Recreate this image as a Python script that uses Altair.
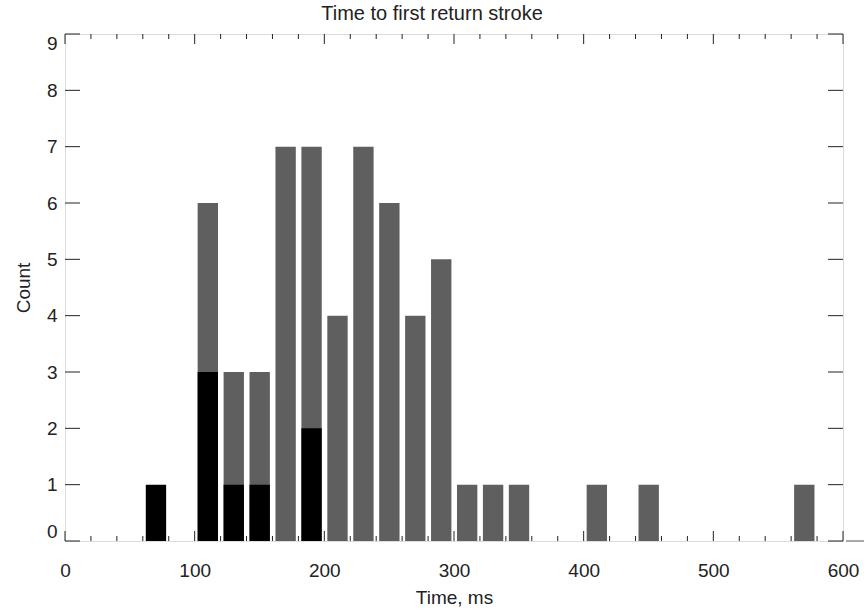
import altair as alt
import pandas as pd

# Histogram data (bin start in ms, bin width 20 ms)
gray_start = [100, 120, 140, 160, 180, 200, 220, 240, 260, 280, 300, 320, 340, 400, 440, 560]
gray_count = [6, 3, 3, 7, 7, 4, 7, 6, 4, 5, 1, 1, 1, 1, 1, 1]
black_start = [60, 100, 120, 140, 180]
black_count = [1, 3, 1, 1, 2]
bin_width = 20

x_major = [0, 100, 200, 300, 400, 500, 600]
x_minor = [v for v in range(0, 601, 20) if v % 100 != 0]
y_ticks = [0, 1, 2, 3, 4, 5, 6, 7, 8, 9]

W, H = 778, 507
FONT = "Liberation Sans"
TXT = "#222222"

gray_df = pd.DataFrame({"start": gray_start, "count": gray_count})
gray_df["x0"] = gray_df["start"] + 2.3
gray_df["x1"] = gray_df["start"] + bin_width - 2.0
black_df = pd.DataFrame({"start": black_start, "count": black_count})
black_df["x0"] = black_df["start"] + 2.3
black_df["x1"] = black_df["start"] + bin_width - 2.0

xs = alt.Scale(domain=[0, 600], nice=False, zero=False)
ys = alt.Scale(domain=[0, 9], nice=False, zero=False)

x_axis = alt.Axis(values=x_major, ticks=False, domain=False, grid=False, format="d",
                  labelFlush=False, labelOverlap=False,
                  labelFont=FONT, labelFontSize=19, labelColor=TXT, labelPadding=20,
                  title="Time, ms", titleFont=FONT, titleFontSize=19, titleFontWeight="normal",
                  titleColor=TXT, titlePadding=8)
y_axis = alt.Axis(values=y_ticks, ticks=False, domain=False, grid=False, format="d",
                  labelFont=FONT, labelFontSize=19, labelColor=TXT, labelPadding=8,
                  labelFlush=True, labelFlushOffset=0, labelOverlap=False,
                  title="Count", titleFont=FONT, titleFontSize=19, titleFontWeight="normal",
                  titleColor=TXT, titlePadding=13)

gray = alt.Chart(gray_df).mark_rect(color="#5f5f5f").encode(
    x=alt.X("x0:Q", scale=xs, axis=x_axis),
    x2="x1:Q",
    y=alt.Y("count:Q", scale=ys, axis=y_axis),
    y2=alt.datum(0),
)
black = alt.Chart(black_df).mark_rect(color="#000000").encode(
    x=alt.X("x0:Q", scale=xs),
    x2="x1:Q",
    y=alt.Y("count:Q", scale=ys),
    y2=alt.datum(0),
)

maj_df = pd.DataFrame({"v": x_major})
min_df = pd.DataFrame({"v": x_minor})
yt_df = pd.DataFrame({"v": y_ticks})
tick_color = "#222222"

xmaj_bot = alt.Chart(maj_df).mark_rule(color=tick_color, strokeWidth=1).encode(
    x=alt.X("v:Q", scale=xs), y=alt.value(H), y2=alt.value(H - 10))
xmaj_top = alt.Chart(maj_df).mark_rule(color=tick_color, strokeWidth=1).encode(
    x=alt.X("v:Q", scale=xs), y=alt.value(0), y2=alt.value(10))
xmin_bot = alt.Chart(min_df).mark_rule(color=tick_color, strokeWidth=1).encode(
    x=alt.X("v:Q", scale=xs), y=alt.value(H), y2=alt.value(H - 5))
xmin_top = alt.Chart(min_df).mark_rule(color=tick_color, strokeWidth=1).encode(
    x=alt.X("v:Q", scale=xs), y=alt.value(0), y2=alt.value(5))
y_left = alt.Chart(yt_df).mark_rule(color=tick_color, strokeWidth=1).encode(
    y=alt.Y("v:Q", scale=ys), x=alt.value(0), x2=alt.value(15))
y_right = alt.Chart(yt_df).mark_rule(color=tick_color, strokeWidth=1).encode(
    y=alt.Y("v:Q", scale=ys), x=alt.value(W), x2=alt.value(W - 15))
stub = alt.Chart(pd.DataFrame({"v": [0]})).mark_rule(color="#555555", strokeWidth=1).encode(
    y=alt.Y("v:Q", scale=ys), x=alt.value(W + 3), x2=alt.value(W + 22))

chart = alt.layer(gray, black, xmaj_bot, xmaj_top, xmin_bot, xmin_top, y_left, y_right, stub).properties(
    width=W, height=H,
    title=alt.TitleParams("Time to first return stroke", font=FONT, fontSize=20,
                          fontWeight="normal", color=TXT, anchor="middle", dx=-22, offset=10),
    padding={"left": 65, "top": 34, "right": 21, "bottom": 70},
    autosize=alt.AutoSizeParams(type="none"),
).configure_view(stroke="#555555", strokeWidth=1.5).configure(background="white")

chart.save("out.html", embed_options={"renderer": "svg", "actions": False})
